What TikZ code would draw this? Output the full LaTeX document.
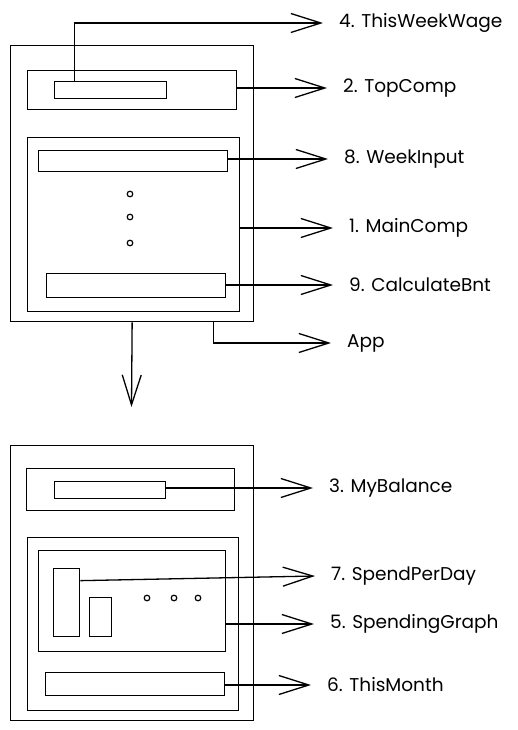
\documentclass[tikz,border=0pt]{standalone}
\usepackage{fontspec}
\setmainfont{Poppins}
\usetikzlibrary{arrows.meta, positioning}

\tikzset{
    box/.style={draw, line width=1.3pt, inner sep=0pt, anchor=north west},
    arr/.style={line width=1.3pt, -{Straight Barb[length=30pt, width=19pt, line width=1.3pt]}},
    lbl/.style={anchor=west, inner sep=0pt, font=\fontsize{18.5}{21}\selectfont}
}

\begin{document}
\begin{tikzpicture}[x=1pt, y=-1pt, node distance=16pt]
        \useasboundingbox (0,0) rectangle (518,730);

        % Upper screen
        \node[box, minimum width=243pt, minimum height=276pt] (app) at (10,45) {};
        \node[box, minimum width=209pt, minimum height=39pt] (topcomp) at (27,70) {};
        \node[box, minimum width=112pt, minimum height=17pt] (wage) at (54,81) {};
        \node[box, minimum width=212pt, minimum height=174pt] (maincomp) at (27,137) {};
        \node[box, minimum width=189pt, minimum height=21pt] (weekin) at (38,150) {};
        \node[box, minimum width=179pt, minimum height=24pt] (calc) at (46,273) {};
        \foreach \y in {194, 217, 243}
            \draw[line width=1.2pt] (130,\y) circle (2.8pt);

        % Lower screen
        \node[box, minimum width=243pt, minimum height=275pt] (bpage) at (10,445) {};
        \node[box, minimum width=208pt, minimum height=42pt] (balbox) at (26,468) {};
        \node[box, minimum width=111pt, minimum height=17pt] (bal) at (54,481) {};
        \node[box, minimum width=211pt, minimum height=173pt] (lower) at (27,537) {};
        \node[box, minimum width=187pt, minimum height=101pt] (graph) at (38,550) {};
        \node[box, minimum width=26pt, minimum height=68pt] (spd) at (53,568) {};
        \node[box, minimum width=22pt, minimum height=39pt] (bar) at (89,597) {};
        \node[box, minimum width=179pt, minimum height=23pt] (month) at (45,672) {};
        \foreach \x in {147, 174, 198}
            \draw[line width=1.2pt] (\x,598) circle (2.8pt);

        % Arrow tips
        \coordinate (tWage) at (323,23);
        \coordinate (tTop) at (327,88);
        \coordinate (tWeek) at (328,159);
        \coordinate (tMain) at (333,228);
        \coordinate (tCalc) at (333,285);
        \coordinate (tApp) at (331,343);
        \coordinate (tDown) at (131.5,407);
        \coordinate (tBal) at (313,488);
        \coordinate (tSpd) at (315,576);
        \coordinate (tGraph) at (314,624);
        \coordinate (tMonth) at (311,685);

        % Labels
        \node[lbl, right=of tWage] (lWage) {4. ThisWeekWage};
        \node[lbl, right=of tTop] (lTop) {2. TopComp};
        \node[lbl, right=of tWeek] (lWeek) {8. WeekInput};
        \node[lbl, right=of tMain] (lMain) {1. MainComp};
        \node[lbl, right=of tCalc] (lCalc) {9. CalculateBnt};
        \node[lbl, right=of tApp] (lApp) {App};
        \node[lbl, right=of tBal] (lBal) {3. MyBalance};
        \node[lbl, right=of tSpd] (lSpd) {7. SpendPerDay};
        \node[lbl, right=of tGraph] (lGraph) {5. SpendingGraph};
        \node[lbl, right=of tMonth] (lMonth) {6. ThisMonth};

        % Connectors
        \draw[arr] ([xshift=-36pt]wage.north) |- (tWage);
        \draw[arr] (topcomp.east |- tTop) -- (tTop);
        \draw[arr] (weekin.east |- tWeek) -- (tWeek);
        \draw[arr] (maincomp.east |- tMain) -- (tMain);
        \draw[arr] (calc.east |- tCalc) -- (tCalc);
        \draw[arr] ([xshift=81pt]app.south) |- (tApp);
        \draw[arr] (app.south) -- (tDown);
        \draw[arr] (bal.east |- tBal) -- (tBal);
        \draw[arr] ([yshift=22pt]spd.east) -- (tSpd);
        \draw[arr] (graph.east |- tGraph) -- (tGraph);
        \draw[arr] (month.east |- tMonth) -- (tMonth);
\end{tikzpicture}
\end{document}
